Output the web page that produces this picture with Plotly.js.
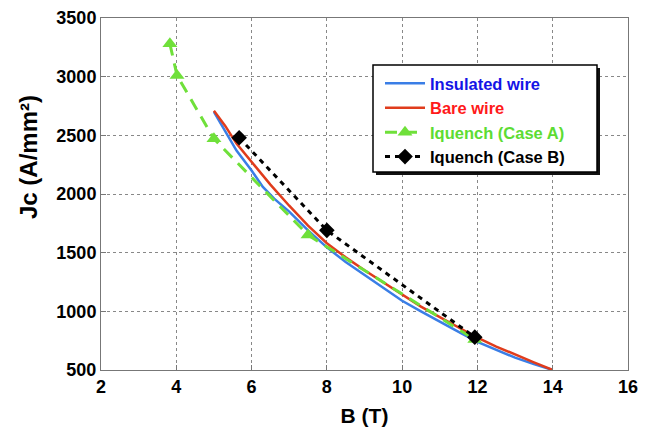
<!DOCTYPE html>
<html>
<head>
<meta charset="utf-8">
<script src="https://cdn.plot.ly/plotly-3.0.1.min.js"></script>
<style>html,body{margin:0;padding:0;background:#fff;}#chart{width:653px;height:437px;}</style>
</head>
<body>
<div id="chart"></div>
<script>
// Data
const insulatedB  = [5.0, 5.3, 5.6, 6.0, 6.3, 6.6, 7.0, 7.5, 8.0, 8.5, 9.0, 9.5, 10.0, 10.5, 11.0, 11.5, 12.0, 12.5, 13.0, 13.5, 14.0];
const insulatedJc = [2700, 2530, 2370, 2200, 2060, 1960, 1850, 1690, 1545, 1420, 1310, 1200, 1090, 1000, 910, 825, 740, 670, 605, 550, 500];

const bareB  = [5.0, 5.3, 5.6, 6.0, 6.5, 7.0, 7.5, 8.0, 8.5, 9.0, 9.5, 10.0, 10.5, 11.0, 11.5, 12.0, 12.5, 13.0, 13.5, 14.0];
const bareJc = [2710, 2580, 2430, 2270, 2080, 1900, 1730, 1580, 1460, 1350, 1245, 1140, 1040, 950, 860, 775, 700, 630, 565, 500];

const caseAB  = [3.83, 4.02, 5.0, 7.5, 11.93];
const caseAJc = [3280, 3010, 2470, 1650, 760];

const caseBB  = [5.67, 8.0, 11.93];
const caseBJc = [2480, 1690, 780];

const seriesNames = ["Insulated wire", "Bare wire", "Iquench (Case A)", "Iquench (Case B)"];
const xTicks = [2, 4, 6, 8, 10, 12, 14, 16];
const yTicks = [500, 1000, 1500, 2000, 2500, 3000, 3500];

const traces = [
  {x: insulatedB, y: insulatedJc, mode: "lines", type: "scatter",
   name: '<span style="color:#1414e6">' + seriesNames[0] + '</span>',
   line: {color: "#3a7ee6", width: 2.5}},
  {x: bareB, y: bareJc, mode: "lines", type: "scatter",
   name: '<span style="color:#ff1a1a">' + seriesNames[1] + '</span>',
   line: {color: "#e03c1c", width: 2.5}},
  {x: caseAB, y: caseAJc, mode: "lines+markers", type: "scatter",
   name: '<span style="color:#5ddc33">' + seriesNames[2] + '</span>',
   line: {color: "#6fe03a", width: 3, dash: "12px,8px"},
   marker: {symbol: "triangle-up", size: 13, color: "#6fe03a"}},
  {x: caseBB, y: caseBJc, mode: "lines+markers", type: "scatter",
   name: '<span style="color:#000">' + seriesNames[3] + '</span>',
   line: {color: "#000", width: 3, dash: "5px,5px"},
   marker: {symbol: "diamond", size: 12, color: "#000"}}
];

const L = 101, R = 628, T = 18, B = 370;
const pw = R - L, ph = B - T;
function px(xp) { return (xp - L) / pw; }
function py(yp) { return (B - yp) / ph; }

const layout = {
  width: 653, height: 437,
  margin: {l: L, r: 653 - R, t: T, b: 437 - B},
  paper_bgcolor: "#fff", plot_bgcolor: "#fff",
  font: {family: "Liberation Sans, Arial, sans-serif", color: "#000"},
  showlegend: true,
  legend: {
    x: px(380), y: py(66), xanchor: "left", yanchor: "top",
    bgcolor: "rgba(0,0,0,0)", borderwidth: 0,
    font: {size: 16.5, weight: "bold", family: "Liberation Sans, Arial, sans-serif"},
    itemwidth: 40, tracegroupgap: 0
  },
  xaxis: {
    range: [2, 16], tickvals: xTicks, ticktext: xTicks.map(String),
    showgrid: true, gridcolor: "#888", griddash: "dot", gridwidth: 1,
    showline: true, linecolor: "#777", linewidth: 1, mirror: true,
    ticks: "inside", ticklen: 5, tickcolor: "#777",
    zeroline: false,
    tickfont: {size: 18, weight: "bold"},
    title: {text: "B (T)", font: {size: 21, weight: "bold"}, standoff: 12}
  },
  yaxis: {
    range: [500, 3500], tickvals: yTicks, ticktext: yTicks.map(String),
    showgrid: true, gridcolor: "#888", griddash: "dot", gridwidth: 1,
    showline: true, linecolor: "#777", linewidth: 1, mirror: true,
    ticks: "inside", ticklen: 5, tickcolor: "#777",
    zeroline: false,
    tickfont: {size: 18, weight: "bold"}
  },
  annotations: [{
    text: "Jc (A/mm²)", textangle: -90, xref: "paper", yref: "paper",
    x: px(28), y: py(157), xanchor: "center", yanchor: "middle", showarrow: false,
    font: {size: 24, weight: "bold", color: "#000"}
  }],
  shapes: [
    {type: "rect", xref: "paper", yref: "paper", layer: "above",
     x0: px(376), x1: px(600), y0: py(175), y1: py(68),
     fillcolor: "#111", line: {width: 0}},
    {type: "rect", xref: "paper", yref: "paper", layer: "above",
     x0: px(373), x1: px(597), y0: py(172), y1: py(65),
     fillcolor: "#fff", line: {color: "#000", width: 1.5}}
  ]
};

Plotly.newPlot("chart", traces, layout, {displayModeBar: false, staticPlot: true});
</script>
</body>
</html>
